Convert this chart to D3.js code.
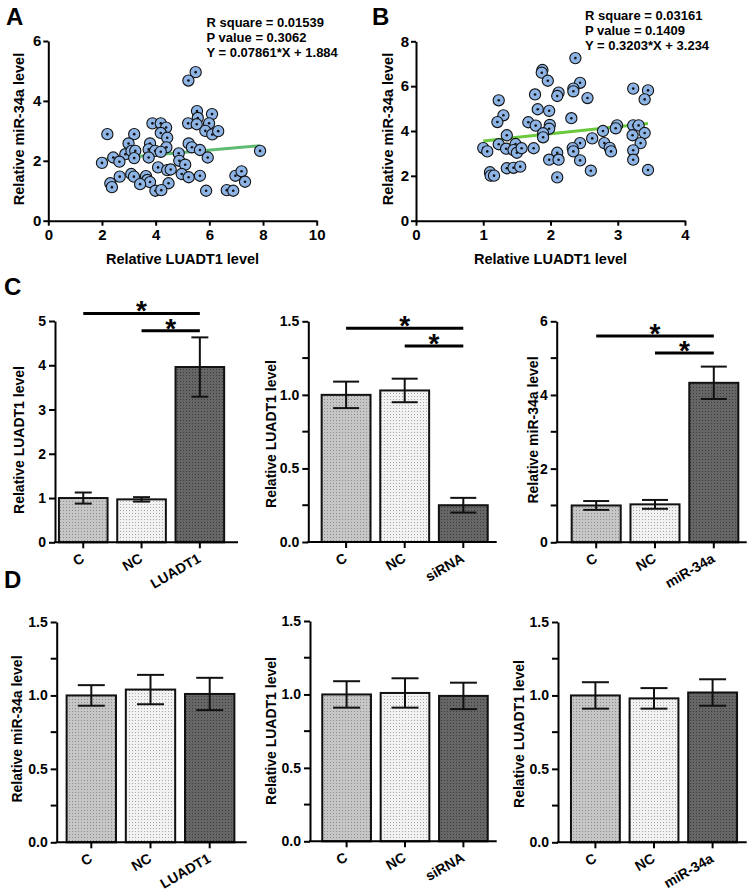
<!DOCTYPE html>
<html><head><meta charset="utf-8">
<script src="https://cdn.jsdelivr.net/npm/d3@7"></script>
<style>
body{margin:0;background:#fff}
svg text{font-family:"Liberation Sans",Arial,Helvetica,sans-serif;font-weight:bold;fill:#000}
</style></head><body>
<svg id="chart" width="750" height="892"></svg>
<script>
// ---------- DATA ----------
const scatterAX = [5.49,5.22,5.54,6.10,5.57,5.21,5.53,5.99,5.85,6.11,6.33,3.88,4.19,4.39,4.19,4.43,2.20,3.20,2.99,3.79,4.40,5.23,5.35,5.65,7.89,2.87,3.10,3.24,3.74,3.98,4.19,3.74,3.20,2.42,2.65,2.00,4.86,4.88,5.10,5.94,4.09,4.43,4.56,4.97,5.23,5.65,3.09,3.19,2.66,3.64,3.69,3.79,3.42,4.48,2.31,2.37,3.99,4.21,5.88,6.65,6.89,6.97,7.20,7.33];
const scatterAY = [4.96,4.68,3.66,3.56,3.43,3.25,3.22,3.25,3.00,2.88,2.99,3.25,3.25,3.11,2.93,2.77,2.89,2.89,2.58,2.58,2.45,2.58,2.45,2.36,2.33,2.22,2.33,2.33,2.38,2.33,2.30,2.11,2.09,2.11,1.97,1.93,2.25,2.00,1.87,2.11,1.78,1.69,1.71,1.56,1.45,1.50,1.56,1.47,1.47,1.49,1.36,1.29,1.22,1.25,1.25,1.12,1.00,1.02,1.00,1.02,1.00,1.50,1.65,1.30];
const scatterBX = [2.37,1.88,1.87,1.96,2.44,2.34,2.34,2.12,2.10,1.77,2.55,3.23,3.45,3.40,1.23,1.81,1.98,1.30,1.21,2.31,1.67,1.78,1.99,1.98,1.89,1.89,1.35,2.99,2.97,2.78,3.23,3.31,3.22,3.40,3.34,2.62,2.44,2.80,2.88,2.90,2.33,2.34,2.10,1.98,2.12,2.44,2.60,2.10,3.23,3.23,3.45,1.00,1.06,1.23,1.34,1.48,1.45,1.50,1.57,1.75,1.35,1.45,1.55,1.10,1.11,1.16];
const scatterBY = [7.25,6.72,6.60,6.24,6.15,5.89,5.77,5.71,5.56,5.63,5.47,5.89,5.81,5.41,5.37,4.97,4.90,4.70,4.40,4.57,4.39,4.24,4.27,4.10,3.90,3.72,3.81,4.25,4.12,4.00,4.25,4.25,3.81,3.91,3.46,3.67,3.46,3.46,3.25,3.09,3.24,3.09,3.03,2.72,2.72,2.69,2.23,1.93,3.14,2.72,2.26,3.24,3.09,3.41,3.21,3.42,3.15,3.03,3.23,3.23,2.34,2.36,2.41,2.16,2.01,2.01];
const regressionA = {slope:0.07861, intercept:1.884, xFrom:2.0, xTo:7.89};
const regressionB = {slope:0.3203, intercept:3.234, xFrom:1.0, xTo:3.45};
const statsA = ["R square = 0.01539","P value = 0.3062","Y = 0.07861*X + 1.884"];
const statsB = ["R square = 0.03161","P value = 0.1409","Y = 0.3203*X + 3.234"];

const catsC1 = ["C","NC","LUADT1"], valsC1 = [1.00,0.97,3.96], errsC1 = [0.125,0.05,0.67];
const catsC2 = ["C","NC","siRNA"],  valsC2 = [1.00,1.03,0.25], errsC2 = [0.09,0.08,0.05];
const catsC3 = ["C","NC","miR-34a"],valsC3 = [1.00,1.03,4.33], errsC3 = [0.12,0.12,0.44];
const catsD1 = ["C","NC","LUADT1"], valsD1 = [1.00,1.04,1.01], errsD1 = [0.07,0.10,0.11];
const catsD2 = ["C","NC","siRNA"],  valsD2 = [1.00,1.01,0.99], errsD2 = [0.09,0.10,0.09];
const catsD3 = ["C","NC","miR-34a"],valsD3 = [1.00,0.98,1.02], errsD3 = [0.09,0.07,0.09];
const sigC1 = [[0,2,5.17],[1,2,4.78]];
const sigC2 = [[0,2,1.453],[1,2,1.332]];
const sigC3 = [[0,2,5.60],[1,2,5.14]];

// ---------- DRAW ----------
const svg = d3.select("#chart");
const defs = svg.append("defs");
function pat(id, bg, dot){
  const p = defs.append("pattern").attr("id",id).attr("width",3).attr("height",3).attr("patternUnits","userSpaceOnUse");
  p.append("rect").attr("width",3).attr("height",3).attr("fill",bg);
  p.append("rect").attr("width",1).attr("height",1).attr("fill",dot);
}
pat("p0","#c6c6c6","#8c8c8c");
pat("p1","#f2f2f2","#a9a9a9");
pat("p2","#666666","#3c3c3c");
const fills = ["url(#p0)","url(#p1)","url(#p2)"];

function styleAxis(g){
  g.selectAll("path.domain").attr("stroke","#000").attr("stroke-width",2);
  g.selectAll(".tick line").attr("stroke","#000").attr("stroke-width",2);
  g.selectAll("text").attr("font-family","Liberation Sans, Arial, sans-serif").attr("font-weight","bold").attr("fill","#000");
}

function scatter(c){
  const x = d3.scaleLinear().domain([0,c.xMax]).range([c.left,c.right]);
  const y = d3.scaleLinear().domain([0,c.yMax]).range([c.bottom,c.top]);
  const g = svg.append("g");
  const gx = g.append("g").attr("transform",`translate(0,${c.bottom})`)
    .call(d3.axisBottom(x).tickValues(c.xTicks).tickFormat(d3.format("d")).tickSize(5).tickSizeOuter(0).tickPadding(4));
  gx.selectAll("text").attr("font-size",15);
  styleAxis(gx);
  const gy = g.append("g").attr("transform",`translate(${c.left},0)`)
    .call(d3.axisLeft(y).tickValues(c.yTicks).tickFormat(d3.format("d")).tickSize(5).tickSizeOuter(0).tickPadding(2));
  gy.selectAll("text").attr("font-size",15);
  styleAxis(gy);
  const r = c.reg;
  g.append("line").attr("x1",x(r.xFrom)).attr("x2",x(r.xTo))
    .attr("y1",y(r.slope*r.xFrom+r.intercept)).attr("y2",y(r.slope*r.xTo+r.intercept))
    .attr("stroke",c.lineColor).attr("stroke-width",3);
  const pts = c.xs.map((v,i)=>[v,c.ys[i]]);
  const pg = g.append("g").selectAll("g").data(pts).join("g")
    .attr("transform",d=>`translate(${x(d[0])},${y(d[1])})`);
  pg.append("circle").attr("r",5.6).attr("fill","#8db4e4").attr("stroke","#111").attr("stroke-width",1.1);
  pg.append("circle").attr("r",1.3).attr("fill","#111");
  g.append("text").attr("x",(c.left+c.right)/2).attr("y",c.bottom+43).attr("text-anchor","middle").attr("font-size",14.5).text(c.xTitle);
  g.append("text").attr("transform",`translate(${c.yTitleX},${c.yTitleY}) rotate(-90)`).attr("text-anchor","middle").attr("dominant-baseline","central").attr("font-size",14.5).text(c.yTitle);
  const st = g.append("text").attr("x",c.statX).attr("y",c.statY).attr("font-size",13);
  c.stats.forEach((s,i)=> st.append("tspan").attr("x",c.statX).attr("y",c.statY+i*15.2).text(s));
}

function bars(c){
  const x = d3.scaleBand().domain(c.cats).range(c.band).paddingInner(0.166).paddingOuter(0.083);
  const y = d3.scaleLinear().domain([0,c.yMax]).range([c.bottom,c.top]);
  const g = svg.append("g");
  const data = c.cats.map((k,i)=>({k,v:c.vals[i],e:c.errs[i],i}));
  g.selectAll("rect.bar").data(data).join("rect").attr("class","bar")
    .attr("x",d=>x(d.k)).attr("width",x.bandwidth())
    .attr("y",d=>y(d.v)).attr("height",d=>y(0)-y(d.v))
    .attr("fill",d=>fills[d.i]).attr("stroke","#111").attr("stroke-width",2);
  const eb = g.selectAll("g.eb").data(data).join("g").attr("class","eb");
  const cx = d=>x(d.k)+x.bandwidth()/2;
  eb.append("line").attr("x1",cx).attr("x2",cx).attr("y1",d=>y(d.v+d.e)).attr("y2",d=>y(d.v-d.e)).attr("stroke","#111").attr("stroke-width",2);
  eb.append("line").attr("x1",d=>cx(d)-c.cap/2).attr("x2",d=>cx(d)+c.cap/2).attr("y1",d=>y(d.v+d.e)).attr("y2",d=>y(d.v+d.e)).attr("stroke","#111").attr("stroke-width",2);
  eb.append("line").attr("x1",d=>cx(d)-c.cap/2).attr("x2",d=>cx(d)+c.cap/2).attr("y1",d=>y(d.v-d.e)).attr("y2",d=>y(d.v-d.e)).attr("stroke","#111").attr("stroke-width",2);
  // y axis
  const gy = g.append("g").attr("transform",`translate(${c.axisX},0)`)
    .call(d3.axisLeft(y).tickValues(c.ticks).tickFormat(d3.format(c.fmt)).tickSize(6).tickSizeOuter(0).tickPadding(3));
  gy.selectAll("text").attr("font-size",14);
  styleAxis(gy);
  if(c.minor){
    gy.selectAll("line.minor").data(c.minor).join("line").attr("class","minor")
      .attr("x1",-6).attr("x2",0).attr("y1",d=>y(d)).attr("y2",d=>y(d)).attr("stroke","#000").attr("stroke-width",2);
  }
  // x axis
  const gx = g.append("g").attr("transform",`translate(0,${c.bottom})`);
  gx.append("line").attr("x1",c.axisX-1).attr("x2",c.axisEnd).attr("stroke","#000").attr("stroke-width",2);
  gx.selectAll("line.t").data(c.cats).join("line").attr("class","t")
    .attr("x1",d=>x(d)+x.bandwidth()/2).attr("x2",d=>x(d)+x.bandwidth()/2).attr("y1",0).attr("y2",6).attr("stroke","#000").attr("stroke-width",2);
  gx.selectAll("text").data(c.cats).join("text")
    .attr("transform",d=>`translate(${x(d)+x.bandwidth()/2+2},19) rotate(-30)`)
    .attr("text-anchor","end").attr("font-size",14).text(d=>d);
  g.append("text").attr("transform",`translate(${c.yTitleX},${c.yTitleY}) rotate(-90)`)
    .attr("text-anchor","middle").attr("dominant-baseline","central").attr("font-size",14).text(c.yTitle);
  if(c.sig){
    c.sig.forEach(s=>{
      const xa = x(c.cats[s[0]])+x.bandwidth()/2, xb = x(c.cats[s[1]])+x.bandwidth()/2;
      g.append("line").attr("x1",xa).attr("x2",xb).attr("y1",y(s[2])).attr("y2",y(s[2])).attr("stroke","#000").attr("stroke-width",3);
      g.append("text").attr("x",(xa+xb)/2).attr("y",y(s[2])+7).attr("text-anchor","middle").attr("font-size",28).text("*");
    });
  }
}

scatter({xs:scatterAX, ys:scatterAY, xMax:10, yMax:6, xTicks:[0,2,4,6,8,10], yTicks:[0,2,4,6],
  left:48.3, right:316.7, top:41, bottom:220.7, reg:regressionA, lineColor:"#5fba72",
  xTitle:"Relative LUADT1 level", yTitle:"Relative miR-34a level", yTitleX:19, yTitleY:129, stats:statsA, statX:206.5, statY:27});
scatter({xs:scatterBX, ys:scatterBY, xMax:4, yMax:8, xTicks:[0,1,2,3,4], yTicks:[0,2,4,6,8],
  left:416, right:685, top:41.3, bottom:220.7, reg:regressionB, lineColor:"#6cc83c",
  xTitle:"Relative LUADT1 level", yTitle:"Relative miR-34a level", yTitleX:388, yTitleY:129, stats:statsB, statX:585, statY:20});

bars({cats:catsC1, vals:valsC1, errs:errsC1, yMax:5, ticks:[0,1,2,3,4,5], fmt:"d", top:321, bottom:542.3,
  axisX:55, axisEnd:238, band:[54.1,229], cap:17, yTitle:"Relative LUADT1 level", yTitleX:19, yTitleY:440, sig:sigC1});
bars({cats:catsC2, vals:valsC2, errs:errsC2, yMax:1.5, ticks:[0,0.5,1,1.5], minor:[0.25,0.75,1.25], fmt:".1f", top:321.3, bottom:542,
  axisX:308.3, axisEnd:496.7, band:[316.8,492.6], cap:26, yTitle:"Relative LUADT1 level", yTitleX:271, yTitleY:434, sig:sigC2});
bars({cats:catsC3, vals:valsC3, errs:errsC3, yMax:6, ticks:[0,2,4,6], minor:[1,3,5], fmt:"d", top:321.3, bottom:542.3,
  axisX:556.7, axisEnd:746.7, band:[566.8,743.2], cap:26, yTitle:"Relative miR-34a level", yTitleX:533, yTitleY:430, sig:sigC3});
bars({cats:catsD1, vals:valsD1, errs:errsD1, yMax:1.5, ticks:[0,0.5,1,1.5], minor:[0.25,0.75,1.25], fmt:".1f", top:622, bottom:842.3,
  axisX:56.7, axisEnd:246.7, band:[61.7,239.3], cap:27, yTitle:"Relative miR-34a level", yTitleX:17, yTitleY:729});
bars({cats:catsD2, vals:valsD2, errs:errsD2, yMax:1.5, ticks:[0,0.5,1,1.5], minor:[0.25,0.75,1.25], fmt:".1f", top:621, bottom:841.3,
  axisX:310, axisEnd:496.7, band:[317.4,492.6], cap:27, yTitle:"Relative LUADT1 level", yTitleX:270.5, yTitleY:731});
bars({cats:catsD3, vals:valsD3, errs:errsD3, yMax:1.5, ticks:[0,0.5,1,1.5], minor:[0.25,0.75,1.25], fmt:".1f", top:622, bottom:842.3,
  axisX:558, axisEnd:746.7, band:[566.1,741.9], cap:27, yTitle:"Relative LUADT1 level", yTitleX:519, yTitleY:734});

// panel letters
[["A",6,25],["B",372,25],["C",4,295],["D",4,588]].forEach(([t,x,y])=>{
  svg.append("text").attr("x",x).attr("y",y).attr("font-size",24).text(t);
});
</script>
</body></html>
